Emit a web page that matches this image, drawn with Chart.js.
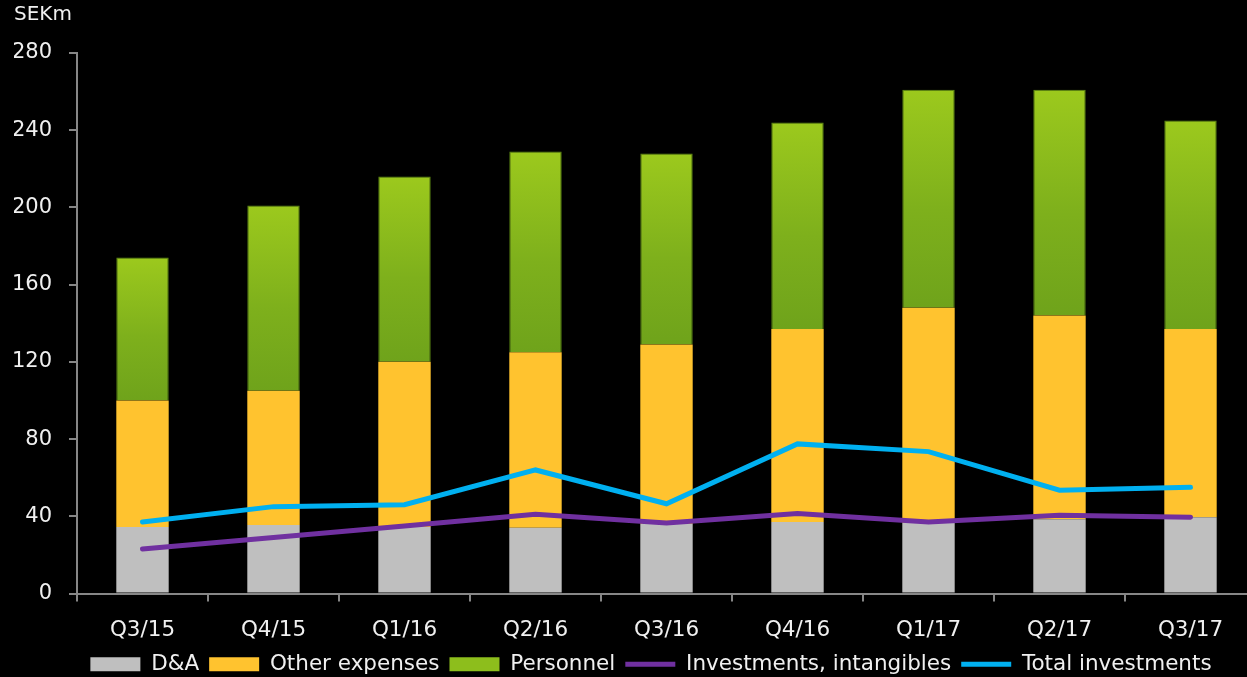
<!DOCTYPE html>
<html>
<head>
<meta charset="utf-8">
<script src="https://cdn.jsdelivr.net/npm/chart.js@4/dist/chart.umd.min.js"></script>
<style>
  html, body { margin: 0; padding: 0; background: #000; overflow: hidden; }
  #wrap { width: 1256px; height: 677px; }
</style>
</head>
<body>
<div id="wrap"><canvas id="costChart" width="1256" height="677"></canvas></div>
<script>
const quarters = ["Q3/15", "Q4/15", "Q1/16", "Q2/16", "Q3/16", "Q4/16", "Q1/17", "Q2/17", "Q3/17"];
const dna = [34.5, 35.5, 34.5, 34, 36, 37, 36.5, 38.5, 39.5];
const otherExpenses = [65.5, 69.5, 85.5, 91, 93, 100, 111.5, 105.5, 97.5];
const personnel = [74, 96, 96, 104, 99, 107, 113, 117, 108];
const invIntangibles = [23, 29, 35, 41, 36.5, 41.5, 37, 40.5, 39.5];
const totalInvestments = [37, 45, 46, 64, 46.5, 77.5, 73.5, 53.5, 55];
const yTicks = [0, 40, 80, 120, 160, 200, 240, 280];

const FONT = "'DejaVu Sans', sans-serif";
const textColor = "#f0f0f0";
const axisColor = "#878787";

// green bars get a vertical gradient per bar
function personnelFill(ctx) {
  const chart = ctx.chart;
  const y = chart.scales.y;
  if (!y || ctx.type !== "data") return "#8dbe1c";
  const i = ctx.dataIndex;
  const bottom = dna[i] + otherExpenses[i];
  const top = bottom + personnel[i];
  const y0 = y.getPixelForValue(top), y1 = y.getPixelForValue(bottom);
  if (!Number.isFinite(y0) || !Number.isFinite(y1) || y0 === y1) return "#8dbe1c";
  const g = chart.ctx.createLinearGradient(0, y0, 0, y1);
  g.addColorStop(0, "#9cc91d");
  g.addColorStop(0.55, "#7eb01c");
  g.addColorStop(1, "#6fa31b");
  return g;
}

// nudge the legend a bit to the right, like the original slide
const legendShift = {
  id: "legendShift",
  afterLayout(chart) {
    const lg = chart.legend;
    if (!lg) return;
    lg.left += 16;
    lg.right += 16;
  }
};

new Chart(document.getElementById("costChart"), {
  type: "bar",
  data: {
    labels: quarters,
    datasets: [
      { label: "D&A", data: dna, backgroundColor: "#bfbfbf", stack: "costs", order: 1, pointStyle: "rect" },
      { label: "Other expenses", data: otherExpenses, backgroundColor: "#ffc32f", stack: "costs", order: 1, pointStyle: "rect" },
      { label: "Personnel", data: personnel, backgroundColor: personnelFill, borderColor: "#5d8c14", borderWidth: 1, stack: "costs", order: 1, pointStyle: "rect" },
      { type: "line", label: "Investments, intangibles", data: invIntangibles, borderColor: "#7030a0", backgroundColor: "#7030a0",
        borderWidth: 5, pointRadius: 0, tension: 0, borderCapStyle: "round", stack: "inv1", order: 0, pointStyle: "line" },
      { type: "line", label: "Total investments", data: totalInvestments, borderColor: "#00b0f0", backgroundColor: "#00b0f0",
        borderWidth: 5, pointRadius: 0, tension: 0, borderCapStyle: "round", stack: "inv2", order: 0, pointStyle: "line" }
    ]
  },
  plugins: [legendShift],
  options: {
    responsive: false,
    animation: false,
    layout: { padding: { left: 14, top: 0, right: 0, bottom: -8 } },
    datasets: { bar: { categoryPercentage: 0.8, barPercentage: 0.5 } },
    scales: {
      x: {
        stacked: true,
        offset: true,
        afterFit: axis => { axis.height = 50; },
        grid: { display: true, drawOnChartArea: false, drawTicks: true, tickLength: 8, color: axisColor, lineWidth: 2, offset: true },
        border: { color: axisColor, width: 2 },
        ticks: { color: textColor, font: { family: FONT, size: 21.5 }, padding: 16, maxRotation: 0 }
      },
      y: {
        stacked: true,
        min: 0,
        max: 280,
        afterBuildTicks: axis => { axis.ticks = yTicks.map(v => ({ value: v })); },
        afterFit: axis => { axis.width = 63; },
        grid: { display: true, drawOnChartArea: false, drawTicks: true, tickLength: 8, color: axisColor, lineWidth: 2 },
        border: { color: axisColor, width: 2 },
        ticks: { color: textColor, font: { family: FONT, size: 21 }, padding: 17 }
      }
    },
    plugins: {
      title: {
        display: true,
        text: "SEKm",
        align: "start",
        color: textColor,
        font: { family: FONT, size: 20, weight: "normal" },
        padding: { top: 3, bottom: 26 }
      },
      legend: {
        position: "bottom",
        labels: {
          color: textColor,
          font: { family: FONT, size: 21.5 },
          usePointStyle: true,
          pointStyleWidth: 50,
          boxHeight: 14,
          padding: 10,
          sort: (a, b) => a.datasetIndex - b.datasetIndex,
          generateLabels: chart => {
            const items = Chart.defaults.plugins.legend.labels.generateLabels(chart);
            items.forEach(it => {
              if (it.datasetIndex === 2) { it.fillStyle = "#8dbe1c"; it.lineWidth = 0; }
            });
            return items;
          }
        }
      },
      tooltip: { enabled: false }
    }
  }
});
</script>
</body>
</html>
